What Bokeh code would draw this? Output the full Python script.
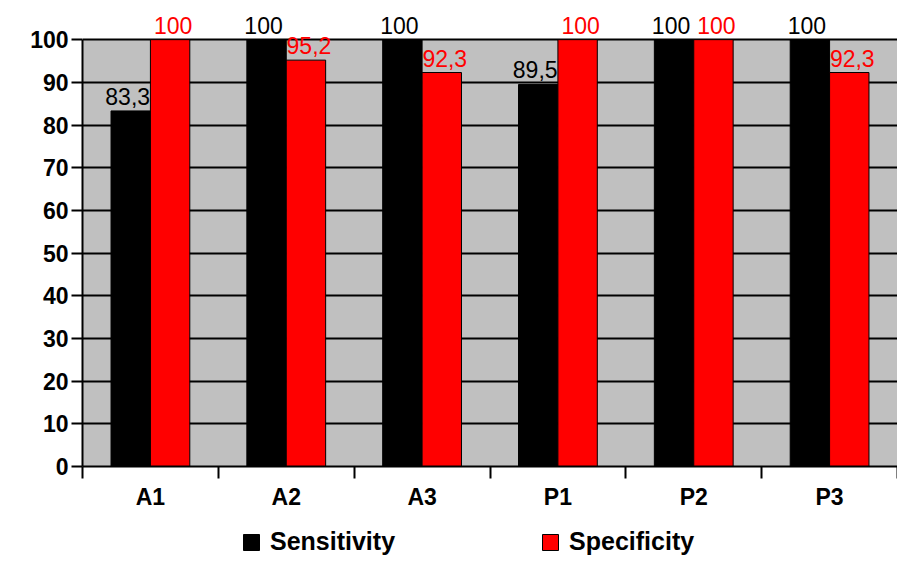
from bokeh.plotting import figure
from bokeh.layouts import column
from bokeh.models import (ColumnDataSource, Range1d, FixedTicker, CustomJSTickFormatter,
                          LabelSet, Legend, LegendItem, BoxAnnotation)
from bokeh.core.properties import value
from bokeh.embed import file_html
from bokeh.resources import INLINE

categories = ["A1", "A2", "A3", "P1", "P2", "P3"]
sensitivity = [83.3, 100, 100, 89.5, 100, 100]
specificity = [100, 95.2, 92.3, 100, 100, 92.3]
series_names = ["Sensitivity", "Specificity"]
series_colors = ["#000000", "#ff0000"]
y_ticks = [0, 10, 20, 30, 40, 50, 60, 70, 80, 90, 100]

FONT = "Liberation Sans"
BAR_W = 0.29
OFF = 0.145
Y_MAX = 100

def fmt(v):
    return f"{v:g}".replace(".", ",")

n = len(categories)
centers = [i + 0.5 for i in range(n)]

p = figure(width=897, height=520, output_backend="svg", toolbar_location=None,
           x_range=Range1d(0, n), y_range=Range1d(0, 108),
           min_border_left=82, min_border_right=0, min_border_top=5, min_border_bottom=54)
p.background_fill_color = "white"
p.border_fill_color = "white"
p.outline_line_color = None

# gray plot area (0..100 only)
p.add_layout(BoxAnnotation(bottom=0, top=Y_MAX, fill_color="#c0c0c0", fill_alpha=1,
                           line_color=None, level="image"))

src_sens = ColumnDataSource(dict(x=[c - OFF for c in centers], top=sensitivity,
                                 label=[fmt(v) for v in sensitivity]))
src_spec = ColumnDataSource(dict(x=[c + OFF for c in centers], top=specificity,
                                 label=[fmt(v) for v in specificity]))

r1 = p.vbar(x="x", top="top", bottom=0, width=BAR_W, source=src_sens,
            fill_color=series_colors[0], line_color="#000000", line_width=1)
r2 = p.vbar(x="x", top="top", bottom=0, width=BAR_W, source=src_spec,
            fill_color=series_colors[1], line_color="#000000", line_width=1)

for src, col, xo in ((src_sens, series_colors[0], -3), (src_spec, series_colors[1], 3)):
    ls = LabelSet(x="x", y="top", text="label", source=src, text_align="center",
                  text_baseline="alphabetic", y_offset=6, x_offset=xo, text_color=col,
                  text_font=value(FONT), text_font_size="23px")
    p.add_layout(ls)

# grid
p.xgrid.grid_line_color = None
p.ygrid.grid_line_color = "black"
p.ygrid.grid_line_width = 2
p.ygrid.ticker = FixedTicker(ticks=y_ticks)

# y axis
p.yaxis.ticker = FixedTicker(ticks=y_ticks)
p.yaxis.bounds = (0, Y_MAX)
p.yaxis.axis_line_width = 2
p.yaxis.axis_line_color = "black"
p.yaxis.major_tick_line_width = 2
p.yaxis.major_tick_out = 11
p.yaxis.major_tick_in = 0
p.yaxis.minor_tick_line_color = None
p.yaxis.major_label_text_font = FONT
p.yaxis.major_label_text_font_style = "bold"
p.yaxis.major_label_text_font_size = "23px"
p.yaxis.major_label_text_color = "black"
p.yaxis.major_label_standoff = 3

# x axis
p.xaxis.ticker = FixedTicker(ticks=centers, minor_ticks=list(range(n + 1)))
p.xaxis.formatter = CustomJSTickFormatter(args=dict(cats=categories),
                                          code="return cats[Math.floor(tick)];")
p.xaxis.axis_line_width = 2
p.xaxis.axis_line_color = "black"
p.xaxis.major_tick_line_color = None
p.xaxis.major_tick_out = 12
p.xaxis.major_tick_in = 0
p.xaxis.minor_tick_line_color = "black"
p.xaxis.minor_tick_line_width = 2
p.xaxis.minor_tick_out = 12
p.xaxis.minor_tick_in = 0
p.xaxis.major_label_text_font = FONT
p.xaxis.major_label_text_font_style = "bold"
p.xaxis.major_label_text_font_size = "23px"
p.xaxis.major_label_text_color = "black"
p.xaxis.major_label_standoff = 5

# legend strip below the chart (swatch renderers share the data, but are hidden)
lg = figure(width=897, height=48, output_backend="svg", toolbar_location=None,
            x_range=Range1d(0, n), y_range=Range1d(0, 108),
            min_border_left=0, min_border_right=0, min_border_top=0, min_border_bottom=0)
lg.axis.visible = False
lg.grid.grid_line_color = None
lg.outline_line_color = None
lg.background_fill_color = "white"
swatches = []
for src, col in ((src_sens, series_colors[0]), (src_spec, series_colors[1])):
    sw = lg.vbar(x="x", top="top", bottom=0, width=BAR_W, source=src,
                 fill_color=col, line_color="#000000", line_width=1)
    sw.visible = False
    swatches.append(sw)

legend = Legend(items=[LegendItem(label=name, renderers=[r])
                       for name, r in zip(series_names, swatches)],
                orientation="horizontal", location=(159, 12),
                glyph_width=20, glyph_height=20, label_standoff=9, spacing=145,
                label_text_font=FONT, label_text_font_style="bold",
                label_text_font_size="25px", label_text_color="black", label_height=20,
                border_line_color=None, background_fill_alpha=0,
                inactive_fill_alpha=0, click_policy="none",
                padding=0, margin=0)
lg.add_layout(legend, "center")

layout = column(p, lg, spacing=0)
open("out.html", "w").write(file_html(layout, INLINE))
